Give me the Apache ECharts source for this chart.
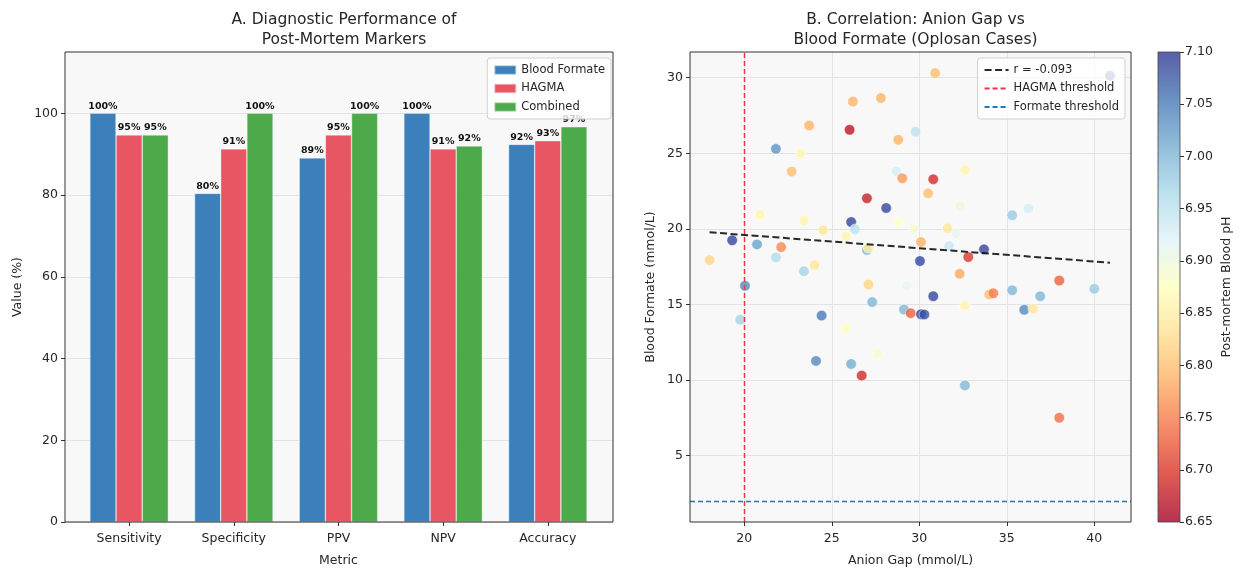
<!DOCTYPE html>
<html><head><meta charset="utf-8">
<script src="https://cdn.jsdelivr.net/npm/echarts@6/dist/echarts.min.js"></script>
<style>html,body{margin:0;padding:0;background:#fff}#c{width:1240px;height:569px}</style>
</head><body><div id="c"></div>
<script>
// ---------- data ----------
const metrics = ['Sensitivity', 'Specificity', 'PPV', 'NPV', 'Accuracy'];
const bloodFormate = [100, 80.4, 89.1, 100, 92.4];
const hagma = [94.7, 91.3, 94.7, 91.3, 93.3];
const combined = [94.7, 100, 100, 92.0, 96.7];
const barYTicks = [0, 20, 40, 60, 80, 100];

const anionGap = [26.21,27.81,23.71,26.02,29.79,28.80,21.81,23.22,22.71,28.71,
  29.03,27.01,28.11,20.90,23.41,28.80,26.11,24.51,26.33,29.71,
  25.81,18.02,19.31,20.73,22.11,21.81,23.41,24.02,27.01,27.10,
  27.10,20.04,29.30,27.31,30.04,30.10,24.42,19.77,25.81,29.13,
  29.51,30.10,30.29,27.62,24.10,26.11,26.71,31.62,32.10,31.70,
  32.80,33.70,32.31,30.80,34.00,34.23,35.31,36.91,38.00,40.00,
  32.61,36.00,36.51,32.61,38.00,35.31,36.23,30.91,40.90,32.63,
  30.80,30.51,32.33];
const formate = [28.43,28.65,26.84,26.55,26.42,25.89,25.29,24.99,23.79,23.79,
  23.35,22.02,21.38,20.92,20.54,20.43,20.45,19.92,19.97,19.97,
  19.52,17.93,19.24,18.97,18.79,18.11,17.20,17.60,18.60,18.75,
  16.32,16.23,16.23,15.15,17.87,19.13,14.26,13.98,13.40,14.66,
  14.42,14.35,14.33,11.74,11.26,11.06,10.29,20.03,19.70,18.86,
  18.13,18.64,17.03,15.54,15.66,15.74,15.94,15.54,16.58,16.03,
  14.91,14.64,14.71,9.64,7.50,20.90,21.34,30.31,30.13,23.90,
  23.28,22.35,21.51];
const bloodPH = [6.79,6.79,6.79,6.67,6.95,6.79,7.03,6.86,6.80,6.93,
  6.77,6.68,7.09,6.86,6.86,6.88,7.09,6.84,6.95,6.89,
  6.86,6.82,7.09,7.02,6.76,6.96,6.97,6.84,7.00,6.85,
  6.82,7.04,6.91,7.00,7.09,6.79,7.05,6.97,6.87,7.00,
  6.73,7.09,7.08,6.89,7.04,7.01,6.69,6.84,6.91,6.94,
  6.70,7.09,6.78,7.09,6.80,6.75,7.00,7.00,6.73,6.98,
  6.86,7.04,6.84,7.00,6.74,6.98,6.93,6.80,7.08,6.86,
  6.69,6.80,6.90];
const fitX = [18.02, 40.90];
const fitY = [19.77, 17.76];
const rValue = -0.093;
const hagmaThreshold = 20;
const formateThreshold = 2;
const scatterXTicks = [20, 25, 30, 35, 40];
const scatterYTicks = [5, 10, 15, 20, 25, 30];
const phTicks = [6.65, 6.70, 6.75, 6.80, 6.85, 6.90, 6.95, 7.00, 7.05, 7.10];

// ---------- styling / layout ----------
const FONT = 'DejaVu Sans';
const TXT = '#262626';
const W = 1240, H = 569;
const L = {left: 65, right: 613, top: 52, bottom: 522};
const R = {left: 690, right: 1131, top: 52, bottom: 522};
const CB = {left: 1158, right: 1180};
const lw = L.right - L.left;
const span = 0.191 * lw;           // category spacing
const innerLeft = L.left + 0.0215 * lw;
const innerWidth = 5 * span;
const RdYlBu = ['#a50026','#d73027','#f46d43','#fdae61','#fee090','#ffffbf','#e0f3f8','#abd9e9','#74add1','#4575b4','#313695'];
const barColors = ['#3b80ba', '#e85563', '#4caa4a'];
const gridColor = '#e3e3e3';
const axisBg = '#f8f8f8';

const scatterData = anionGap.map((x, i) => [x, formate[i], bloodPH[i]]);
const fitData = fitX.map((x, i) => [x, fitY[i]]);

const tickStyle = {show: true, length: 4, lineStyle: {color: '#333', width: 1}};
const labelStyle = {color: TXT, fontFamily: FONT, fontSize: 12.5};
const nameStyle = {color: TXT, fontFamily: FONT, fontSize: 12.5};

function barSeries(name, vals, color) {
  return {
    type: 'bar', name, data: vals, xAxisIndex: 1, yAxisIndex: 1,
    barWidth: '25%', barGap: '0%',
    itemStyle: {color, borderColor: 'rgba(255,255,255,0.6)', borderWidth: 0.6},
    label: {show: true, position: 'top', distance: 2, fontFamily: FONT, fontSize: 9.5,
      fontWeight: 'bold', color: '#111', formatter: p => Math.round(p.value) + '%'}
  };
}

const legendCommon = {
  orient: 'vertical', top: 58, itemGap: 6.5,
  textStyle: {fontFamily: FONT, fontSize: 11.5, color: TXT},
  backgroundColor: 'rgba(255,255,255,0.8)', borderColor: '#d0d0d0', borderWidth: 1, borderRadius: 3,
  padding: [6, 6, 6, 6], z: 20
};

const gridCommon = {outerBoundsMode: 'none', containLabel: false};

const chart = echarts.init(document.getElementById('c'), null, {renderer: 'canvas'});
chart.setOption({
  animation: false,
  backgroundColor: '#fff',
  textStyle: {fontFamily: FONT},
  title: [
    {text: 'A. Diagnostic Performance of\nPost-Mortem Markers', left: (L.left + L.right) / 2, top: 5,
      textAlign: 'center', textStyle: {fontFamily: FONT, fontSize: 15.5, fontWeight: 'normal', color: TXT, lineHeight: 20}},
    {text: 'B. Correlation: Anion Gap vs\nBlood Formate (Oplosan Cases)', left: (R.left + R.right) / 2, top: 5,
      textAlign: 'center', textStyle: {fontFamily: FONT, fontSize: 15.5, fontWeight: 'normal', color: TXT, lineHeight: 20}}
  ],
  legend: [
    Object.assign({}, legendCommon, {data: ['Blood Formate', 'HAGMA', 'Combined'], right: W - 611,
      icon: 'rect', itemWidth: 22, itemHeight: 9.5}),
    Object.assign({}, legendCommon, {data: ['r = ' + rValue.toFixed(3), 'HAGMA threshold', 'Formate threshold'],
      right: W - 1125, itemWidth: 24, itemHeight: 9,
      itemStyle: {color: 'rgba(0,0,0,0)', borderWidth: 0, opacity: 0}})
  ],
  grid: [
    Object.assign({left: L.left, right: W - L.right, top: L.top, bottom: H - L.bottom, show: true, backgroundColor: axisBg, borderWidth: 0}, gridCommon),
    Object.assign({left: innerLeft, width: innerWidth, top: L.top, bottom: H - L.bottom}, gridCommon),
    Object.assign({left: R.left, right: W - R.right, top: R.top, bottom: H - R.bottom, show: true, backgroundColor: axisBg, borderWidth: 0}, gridCommon),
    Object.assign({left: CB.left, right: W - CB.right, top: R.top, bottom: H - R.bottom}, gridCommon)
  ],
  xAxis: [
    {gridIndex: 0, type: 'value', min: 0, max: 1, show: false},
    {gridIndex: 1, type: 'category', data: metrics, axisLine: {show: false},
      axisTick: Object.assign({alignWithLabel: true}, tickStyle),
      axisLabel: Object.assign({margin: 10}, labelStyle),
      name: 'Metric', nameLocation: 'middle', nameGap: 32, nameTextStyle: nameStyle},
    {gridIndex: 2, type: 'value', min: 16.9, max: 42.1,
      axisLine: {show: false}, axisTick: Object.assign({customValues: scatterXTicks}, tickStyle),
      axisLabel: Object.assign({customValues: scatterXTicks, margin: 10}, labelStyle),
      splitLine: {show: true, lineStyle: {color: gridColor, width: 1}},
      name: 'Anion Gap (mmol/L)', nameLocation: 'middle', nameGap: 32, nameTextStyle: nameStyle},
    {gridIndex: 3, type: 'category', data: ['pH'], show: false}
  ],
  yAxis: [
    {gridIndex: 0, type: 'value', min: 0, max: 115,
      axisLine: {show: false}, axisTick: Object.assign({customValues: barYTicks}, tickStyle),
      axisLabel: Object.assign({customValues: barYTicks, margin: 7}, labelStyle),
      splitLine: {show: true, lineStyle: {color: gridColor, width: 1}},
      name: 'Value (%)', nameLocation: 'middle', nameGap: 41, nameRotate: 90, nameTextStyle: nameStyle},
    {gridIndex: 1, type: 'value', min: 0, max: 115, show: false},
    {gridIndex: 2, type: 'value', min: 0.6, max: 31.7,
      axisLine: {show: false}, axisTick: Object.assign({customValues: scatterYTicks}, tickStyle),
      axisLabel: Object.assign({customValues: scatterYTicks, margin: 7}, labelStyle),
      splitLine: {show: true, lineStyle: {color: gridColor, width: 1}},
      name: 'Blood Formate (mmol/L)', nameLocation: 'middle', nameGap: 33, nameRotate: 90, nameTextStyle: nameStyle},
    {gridIndex: 3, type: 'value', min: 6.65, max: 7.10, position: 'right',
      axisLine: {show: false}, axisTick: Object.assign({customValues: phTicks}, tickStyle),
      axisLabel: Object.assign({customValues: phTicks, margin: 5, formatter: v => v.toFixed(2)}, labelStyle),
      splitLine: {show: false},
      name: 'Post-mortem Blood pH', nameLocation: 'middle', nameGap: 40, nameRotate: 90, nameTextStyle: nameStyle}
  ],
  visualMap: [{type: 'continuous', show: false, seriesIndex: 3, dimension: 2, min: 6.65, max: 7.10,
    inRange: {color: RdYlBu}}],
  series: [
    barSeries('Blood Formate', bloodFormate, barColors[0]),
    barSeries('HAGMA', hagma, barColors[1]),
    barSeries('Combined', combined, barColors[2]),
    {type: 'scatter', name: 'cases', data: scatterData, xAxisIndex: 2, yAxisIndex: 2, symbolSize: 10.5,
      itemStyle: {opacity: 0.8, borderColor: '#ffffff', borderWidth: 0.6}, z: 3},
    {type: 'line', name: 'r = ' + rValue.toFixed(3), data: fitData, xAxisIndex: 2, yAxisIndex: 2,
      symbol: 'none', itemStyle: {color: '#111'},
      lineStyle: {color: '#111', width: 2, type: [7, 3.5], opacity: 0.9}, z: 4},
    {type: 'line', name: 'HAGMA threshold', data: [], xAxisIndex: 2, yAxisIndex: 2, symbol: 'none',
      itemStyle: {color: '#ee3344'},
      lineStyle: {color: '#ee3344', width: 1.4, type: [5, 3]},
      markLine: {silent: true, symbol: ['none', 'none'], label: {show: false},
        lineStyle: {color: '#ee3344', width: 1.4, type: [5, 3]}, data: [{xAxis: hagmaThreshold}]}},
    {type: 'line', name: 'Formate threshold', data: [], xAxisIndex: 2, yAxisIndex: 2, symbol: 'none',
      itemStyle: {color: '#1f77b4'},
      lineStyle: {color: '#1f77b4', width: 1.4, type: [5, 3]},
      markLine: {silent: true, symbol: ['none', 'none'], label: {show: false},
        lineStyle: {color: '#1f77b4', width: 1.4, type: [5, 3]}, data: [{yAxis: formateThreshold}]}},
    {type: 'bar', name: 'colorbar', data: [phTicks[phTicks.length - 1]], xAxisIndex: 3, yAxisIndex: 3,
      barWidth: '100%', silent: true,
      itemStyle: {opacity: 0.8, color: new echarts.graphic.LinearGradient(0, 1, 0, 0,
        RdYlBu.map((c, i) => ({offset: i / (RdYlBu.length - 1), color: c})))}}
  ],
  graphic: [
    {type: 'rect', z: 50, silent: true, shape: {x: L.left, y: L.top, width: L.right - L.left, height: L.bottom - L.top},
      style: {fill: 'none', stroke: '#333', lineWidth: 1}},
    {type: 'rect', z: 50, silent: true, shape: {x: R.left, y: R.top, width: R.right - R.left, height: R.bottom - R.top},
      style: {fill: 'none', stroke: '#333', lineWidth: 1}},
    {type: 'rect', z: 50, silent: true, shape: {x: CB.left, y: R.top, width: CB.right - CB.left, height: R.bottom - R.top},
      style: {fill: 'none', stroke: '#444', lineWidth: 0.8}}
  ]
});
</script>
</body></html>
